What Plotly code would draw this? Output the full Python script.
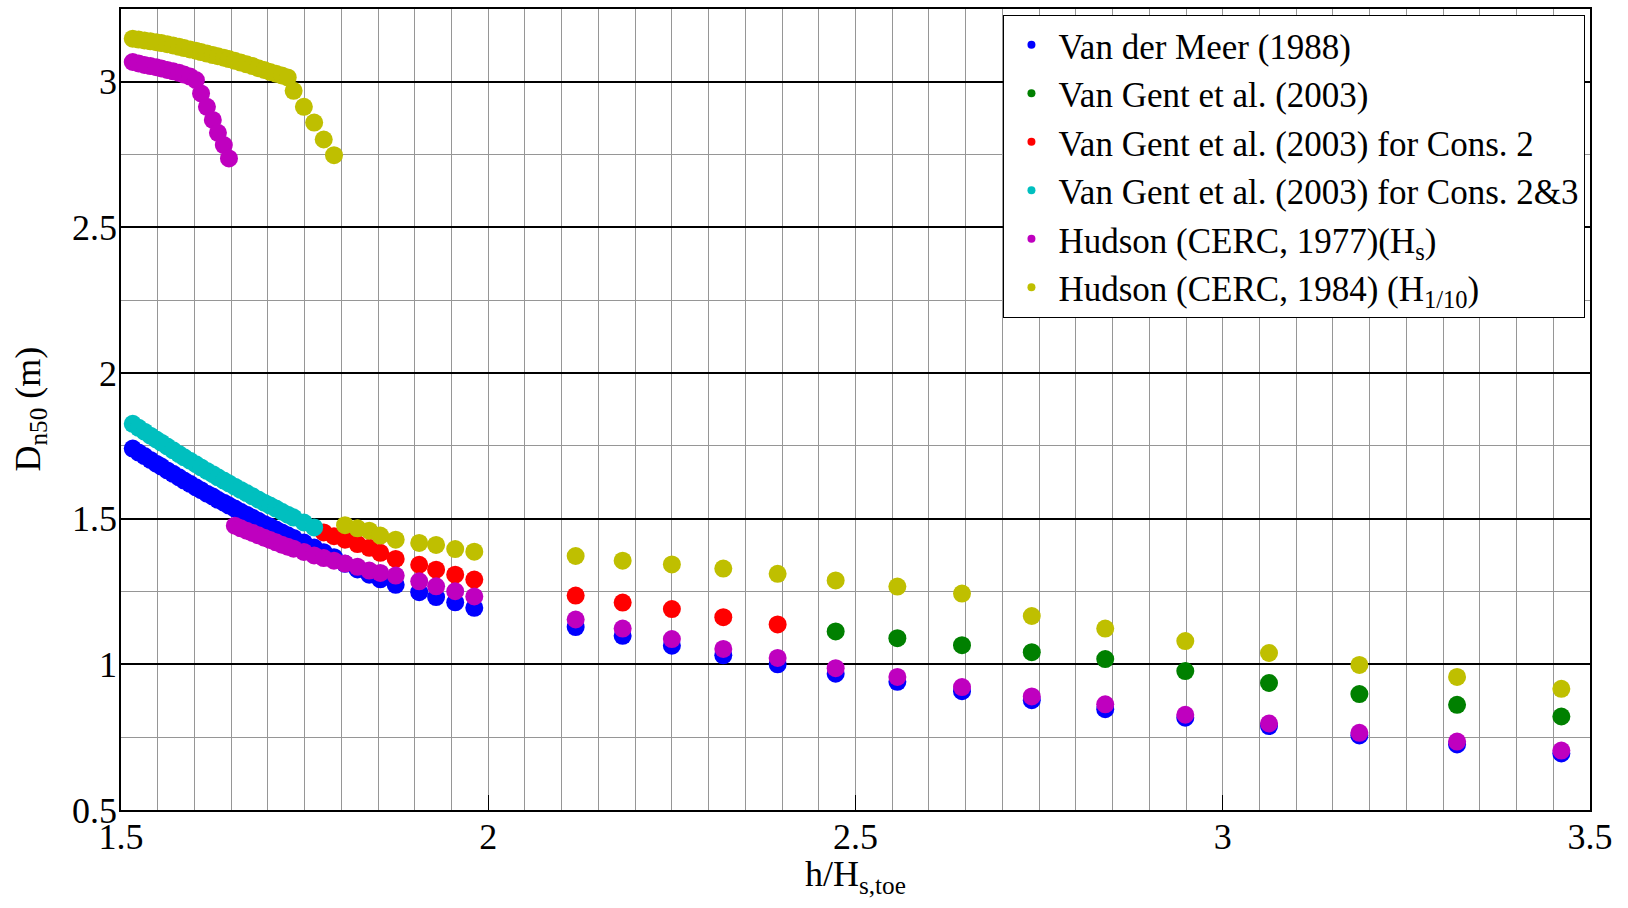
import plotly.graph_objects as go

# Common h/H_s,toe grid (x values of all points)
x_vals = [1.516, 1.524, 1.532, 1.540, 1.548, 1.555, 1.563, 1.571, 1.579, 1.586,
          1.594, 1.602, 1.609, 1.617, 1.625, 1.632, 1.640, 1.647, 1.655, 1.663,
          1.671, 1.679, 1.687, 1.695, 1.703, 1.711, 1.719, 1.727, 1.735, 1.749,
          1.763, 1.776, 1.790, 1.805, 1.822, 1.838, 1.853, 1.874, 1.906, 1.929,
          1.955, 1.981, 2.119, 2.183, 2.250, 2.320, 2.394, 2.473, 2.557, 2.645,
          2.740, 2.840, 2.949, 3.063, 3.186, 3.319, 3.461]

N = None
van_der_meer = [1.741, 1.727, 1.715, 1.702, 1.689, 1.679, 1.666, 1.654, 1.642, 1.631,
                1.620, 1.608, 1.598, 1.586, 1.576, 1.565, 1.555, 1.545, 1.535, 1.524,
                1.514, 1.503, 1.493, 1.482, 1.473, 1.463, 1.453, 1.443, 1.434, 1.418,
                1.401, 1.385, 1.368, 1.345, 1.326, 1.308, 1.292, 1.273, 1.248, 1.231,
                1.213, 1.194, 1.128, 1.098, 1.064, 1.031, 1.000, 0.968, 0.940, 0.908,
                0.877, 0.846, 0.817, 0.788, 0.756, 0.725, 0.694]

van_gent = [N] * 47 + [1.113, 1.090, 1.066, 1.042, 1.018, 0.977, 0.936, 0.898, 0.861, 0.821]

van_gent_cons2 = [N] * 31 + [1.453, 1.440, 1.428, 1.413, 1.400, 1.383, 1.362, 1.342,
                             1.325, 1.308, 1.291, 1.236, 1.212, 1.190, 1.162, 1.137] + [N] * 10

van_gent_cons23 = [1.826, 1.812, 1.799, 1.785, 1.772, 1.761, 1.748, 1.735, 1.722, 1.711,
                   1.699, 1.687, 1.676, 1.664, 1.653, 1.642, 1.631, 1.621, 1.610, 1.599,
                   1.588, 1.577, 1.566, 1.555, 1.545, 1.535, 1.524, 1.514, 1.504, 1.487,
                   1.470] + [N] * 26

hudson_1977 = [3.068, 3.063, 3.058, 3.054, 3.050, 3.046, 3.041, 3.036, 3.031, 3.025,
               3.018, 3.006, 2.960, 2.914, 2.869, 2.825, 2.783, 2.737,
               1.476, 1.467, 1.459, 1.451, 1.443, 1.435, 1.427, 1.419, 1.411, 1.404,
               1.397, 1.386, 1.374, 1.365, 1.356, 1.346, 1.335, 1.322, 1.314, 1.305,
               1.285, 1.268, 1.251, 1.233,
               1.154, 1.123, 1.087, 1.053, 1.022, 0.987, 0.957, 0.922, 0.890, 0.863,
               0.827, 0.797, 0.765, 0.735, 0.704]

hudson_1984 = [3.148, 3.145, 3.142, 3.139, 3.136, 3.133, 3.129, 3.125, 3.120, 3.116,
               3.111, 3.107, 3.102, 3.097, 3.092, 3.088, 3.083, 3.078, 3.072, 3.066,
               3.060, 3.054, 3.047, 3.041, 3.034, 3.028, 3.022, 3.015, 2.969, 2.914,
               2.860, 2.802, 2.748,
               1.478, 1.467, 1.459, 1.442, 1.428, 1.417, 1.410, 1.396, 1.387,
               1.372, 1.356, 1.343, 1.329, 1.311, 1.288, 1.267, 1.243, 1.166, 1.123,
               1.080, 1.039, 0.998, 0.957, 0.916]

series_names = ["Van der Meer (1988)",
                "Van Gent et al. (2003)",
                "Van Gent et al. (2003) for Cons. 2",
                "Van Gent et al. (2003) for Cons. 2&3",
                "Hudson (CERC, 1977)(H<sub>s</sub>)",
                "Hudson (CERC, 1984) (H<sub>1/10</sub>)"]
series_values = [van_der_meer, van_gent, van_gent_cons2, van_gent_cons23, hudson_1977, hudson_1984]
series_colors = ["#0000FF", "#008000", "#FF0000", "#00BFBF", "#BF00BF", "#BFBF00"]

x_tickvals = [1.5, 2, 2.5, 3, 3.5]
x_ticktext = ["1.5", "2", "2.5", "3", "3.5"]
y_tickvals = [0.5, 1, 1.5, 2, 2.5, 3]
y_ticktext = ["0.5", "1", "1.5", "2", "2.5", "3"]

FONT = "Liberation Serif"

fig = go.Figure()
for name, vals, col in zip(series_names, series_values, series_colors):
    fig.add_trace(go.Scatter(x=x_vals, y=vals, mode="markers", name=name,
                             legendgroup=name, showlegend=False,
                             marker=dict(color=col, size=18, line=dict(width=0))))
for name, col in zip(series_names, series_colors):
    fig.add_trace(go.Scatter(x=[None], y=[None], mode="markers", name=name,
                             legendgroup=name, showlegend=True,
                             marker=dict(color=col, size=8, line=dict(width=0))))

fig.update_layout(
    width=1628, height=908,
    margin=dict(l=121, r=38, t=7, b=98),
    paper_bgcolor="white", plot_bgcolor="white",
    font=dict(family=FONT, size=35, color="black"),
    showlegend=True,
    legend=dict(x=0.9969, y=0.993, xanchor="right", yanchor="top",
                bgcolor="white", bordercolor="black", borderwidth=1,
                font=dict(family=FONT, size=35, color="black"),
                itemwidth=44, tracegroupgap=0),
    xaxis=dict(range=[1.5, 3.5], tickmode="array", tickvals=x_tickvals, ticktext=x_ticktext,
               showline=True, linecolor="black", linewidth=1.5, mirror=True,
               ticks="inside", ticklen=15, tickwidth=1, tickcolor="black",
               ticklabelstandoff=-6,
               showgrid=True, gridcolor="rgb(150,150,150)", gridwidth=1,
               minor=dict(dtick=0.05, tick0=1.5, showgrid=True,
                          gridcolor="rgb(150,150,150)", gridwidth=1, ticks=""),
               zeroline=False, tickfont=dict(family=FONT, size=36)),
    yaxis=dict(range=[0.5, 3.25], tickmode="array", tickvals=y_tickvals, ticktext=y_ticktext,
               showline=True, linecolor="black", linewidth=1.5, mirror=True,
               ticks="inside", ticklen=15, tickwidth=1, tickcolor="black",
               ticklabelstandoff=-5,
               showgrid=True, gridcolor="black", gridwidth=2,
               minor=dict(dtick=0.25, tick0=0.5, showgrid=True,
                          gridcolor="rgb(150,150,150)", gridwidth=1, ticks=""),
               zeroline=False, tickfont=dict(family=FONT, size=36)),
    annotations=[
        dict(text="h/H<sub>s,toe</sub>", xref="paper", yref="paper", x=0.5, y=0,
             xanchor="center", yanchor="top", yshift=-42, showarrow=False,
             font=dict(family=FONT, size=36, color="black")),
        dict(text="D<sub>n50</sub> (m)", xref="paper", yref="paper", x=0, y=0.5,
             xanchor="center", yanchor="middle", xshift=-91, textangle=-90, showarrow=False,
             font=dict(family=FONT, size=36, color="black")),
    ],
)

fig.write_html("out.html")
